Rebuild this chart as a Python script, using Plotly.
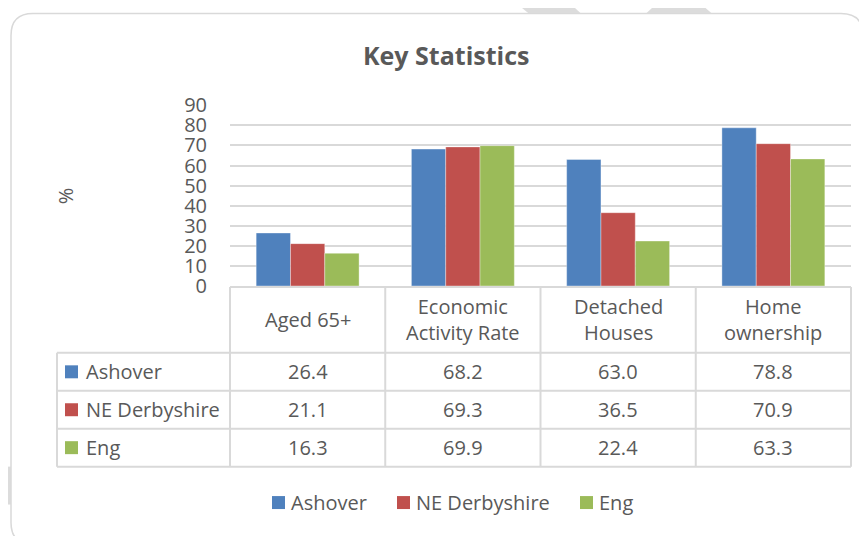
import plotly.graph_objects as go

# ---- data ----
categories = ["Aged 65+", "Economic Activity Rate", "Detached Houses", "Home ownership"]
header_labels = ["Aged 65+", "Economic<br>Activity Rate", "Detached<br>Houses", "Home<br>ownership"]
series_names = ["Ashover", "NE Derbyshire", "Eng"]
ashover = [26.4, 68.2, 63.0, 78.8]
ne_derbyshire = [21.1, 69.3, 36.5, 70.9]
eng = [16.3, 69.9, 22.4, 63.3]
y_ticks = [0, 10, 20, 30, 40, 50, 60, 70, 80, 90]

series_values = [ashover, ne_derbyshire, eng]
colors = ["#4F81BD", "#C0504D", "#9BBB59"]

W, H = 867, 536
# screen-pixel -> paper fraction (empirical placement of the paper in the page)
OX, OY, HP = 8, 21.5, 510
def fx(X):
    return (X - OX) / W
def fy(Y):
    return 1 - (Y - OY) / HP

TXT = "#595959"
GRID = "#D9D9D9"
FONT = "Open Sans, sans-serif"
FS = 20

plot_x0, plot_x1 = 230, 851
plot_top, plot_bot = 105, 286

fig = go.Figure()
for name, vals, c in zip(series_names, series_values, colors):
    fig.add_trace(go.Bar(
        x=categories, y=vals, name=name,
        marker=dict(color=c, line=dict(color="rgba(255,255,255,0.6)", width=0.6)),
        showlegend=False,
    ))

shapes = []
# watermark stripes
for pts in [[(513, 0), (567, 0), (582, 14), (530, 14)],
            [(660, 0), (697, 0), (713, 14), (645, 14)],
            [(0, 467), (11, 467), (11, 505), (0, 505)]]:
    p = "M " + " L ".join(f"{fx(a)},{fy(b)}" for a, b in pts) + " Z"
    shapes.append(dict(type="path", xref="paper", yref="paper", path=p,
                       fillcolor="#DCDCDC", line=dict(width=0), layer="below"))

# rounded chart box
x0, y0, x1, y1, r = 11, 13, 863, 545, 22
def P(a, b):
    return f"{fx(a)},{fy(b)}"
box = (f"M {P(x0+r,y0)} L {P(x1-r,y0)} Q {P(x1,y0)} {P(x1,y0+r)} "
       f"L {P(x1,y1-r)} Q {P(x1,y1)} {P(x1-r,y1)} L {P(x0+r,y1)} "
       f"Q {P(x0,y1)} {P(x0,y1-r)} L {P(x0,y0+r)} Q {P(x0,y0)} {P(x0+r,y0)} Z")
shapes.append(dict(type="path", xref="paper", yref="paper", path=box,
                   fillcolor="white", line=dict(color="#D9D9D9", width=1.5), layer="below"))

# data table grid
n = len(categories)
col_w = (plot_x1 - plot_x0) / n
col_edges = [plot_x0 + i * col_w for i in range(n + 1)]
tbl_top, hdr_bot, row_h = 287, 353, 38
row_edges = [hdr_bot + i * row_h for i in range(len(series_names) + 1)]
tbl_left = 57
LW = 2
def hline(xa, xb, yy):
    shapes.append(dict(type="line", xref="paper", yref="paper", x0=fx(xa), x1=fx(xb),
                       y0=fy(yy), y1=fy(yy), line=dict(color=GRID, width=LW)))
def vline(xx, ya, yb):
    shapes.append(dict(type="line", xref="paper", yref="paper", x0=fx(xx), x1=fx(xx),
                       y0=fy(ya), y1=fy(yb), line=dict(color=GRID, width=LW)))
hline(plot_x0, plot_x1, tbl_top)
for ye in row_edges:
    hline(tbl_left, plot_x1, ye)
for xe in col_edges:
    vline(xe, tbl_top, row_edges[-1])
vline(tbl_left, hdr_bot, row_edges[-1])

annotations = []
def text(t, X, Y, size=FS, xanchor="center", angle=0):
    annotations.append(dict(text=t, x=fx(X), y=fy(Y), xref="paper", yref="paper",
                            xanchor=xanchor, yanchor="middle", showarrow=False,
                            align="center", textangle=angle,
                            font=dict(family=FONT, size=size, color=TXT)))

text("<b>Key Statistics</b>", 446, 55, size=25)
text("%", 65, 195, angle=-90)
for i, lab in enumerate(header_labels):
    text(lab, (col_edges[i] + col_edges[i+1]) / 2, (tbl_top + hdr_bot) / 2)
for j, (name, vals, c) in enumerate(zip(series_names, series_values, colors)):
    yc = (row_edges[j] + row_edges[j+1]) / 2
    shapes.append(dict(type="rect", xref="paper", yref="paper", x0=fx(65), x1=fx(78),
                       y0=fy(yc - 6.5), y1=fy(yc + 6.5), fillcolor=c, line=dict(width=0)))
    text(name, 84, yc, xanchor="left")
    for i, v in enumerate(vals):
        text(f"{v:.1f}", (col_edges[i] + col_edges[i+1]) / 2, yc)

# legend
leg_y = 503
leg_x = [272, 397, 580]
for name, c, lx in zip(series_names, colors, leg_x):
    shapes.append(dict(type="rect", xref="paper", yref="paper", x0=fx(lx), x1=fx(lx + 13),
                       y0=fy(leg_y - 6.5), y1=fy(leg_y + 6.5), fillcolor=c, line=dict(width=0)))
    text(name, lx + 17, leg_y, xanchor="left")

fig.update_layout(
    width=W, height=H, autosize=False,
    margin=dict(l=0, r=0, t=0, b=0, pad=0),
    paper_bgcolor="white", plot_bgcolor="rgba(0,0,0,0)",
    barmode="group", bargap=0.337, bargroupgap=0,
    shapes=shapes, annotations=annotations,
    xaxis=dict(domain=[fx(plot_x0), fx(plot_x1)], showticklabels=False, showgrid=False,
               zeroline=False, showline=False, ticks=""),
    yaxis=dict(domain=[fy(plot_bot), fy(plot_top)], range=[0, 90], tickvals=y_ticks,
               showgrid=True, gridcolor=GRID, gridwidth=1.5, zeroline=False, showline=False,
               ticks="", ticklabelstandoff=22,
               tickfont=dict(family=FONT, size=FS, color=TXT)),
)

fig.write_html("out.html")
